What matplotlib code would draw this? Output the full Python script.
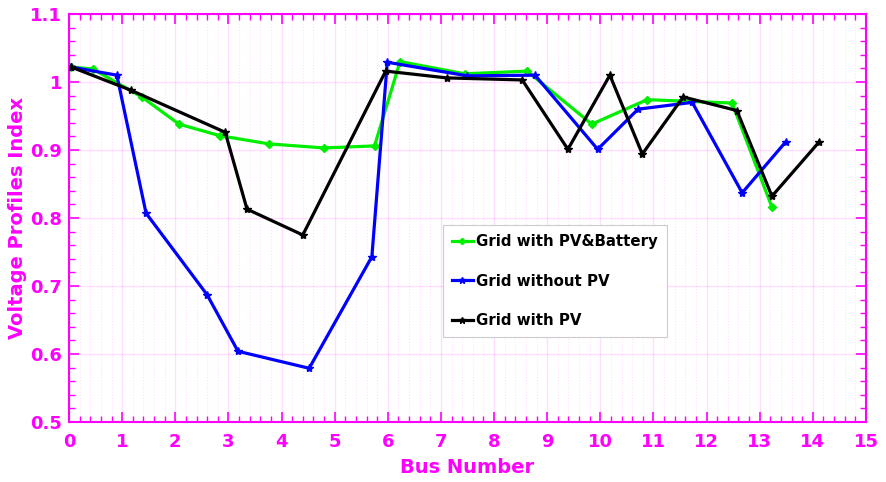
import matplotlib
matplotlib.use("Agg")
import matplotlib.pyplot as plt
from matplotlib.ticker import MultipleLocator

# Data
pvbat_x = [0.04, 0.45, 1.37, 2.07, 2.84, 3.76, 4.80, 5.75, 6.23, 7.45, 8.62, 9.84, 10.88, 12.48, 13.23]
pvbat_y = [1.022, 1.019, 0.978, 0.938, 0.921, 0.909, 0.903, 0.906, 1.030, 1.012, 1.016, 0.938, 0.974, 0.969, 0.816]

nopv_x = [0.04, 0.90, 1.45, 2.60, 3.18, 4.52, 5.70, 5.99, 7.50, 8.77, 9.95, 10.71, 11.73, 12.67, 13.49]
nopv_y = [1.022, 1.010, 0.807, 0.687, 0.604, 0.579, 0.743, 1.029, 1.009, 1.010, 0.901, 0.960, 0.970, 0.837, 0.912]

pv_x = [0.04, 1.16, 2.94, 3.35, 4.40, 5.96, 7.11, 8.53, 9.39, 10.18, 10.79, 11.56, 12.57, 13.23, 14.12]
pv_y = [1.022, 0.988, 0.926, 0.813, 0.775, 1.016, 1.006, 1.003, 0.901, 1.010, 0.894, 0.978, 0.958, 0.832, 0.912]

labels = ["Grid with PV&Battery", "Grid without PV", "Grid with PV"]
xticks = list(range(0, 16))
yticks = [0.5, 0.6, 0.7, 0.8, 0.9, 1.0, 1.1]
ytick_labels = ["0.5", "0.6", "0.7", "0.8", "0.9", "1", "1.1"]

MAG = "#FF00FF"
plt.rcParams['font.family'] = ['DejaVu Sans']

fig = plt.figure(figsize=(8.86, 4.82), dpi=100)
ax = fig.add_axes([0.0779, 0.1245, 0.8995, 0.8465])

ax.plot(pvbat_x, pvbat_y, '-', color='#00EE00', lw=2.3, marker='D', ms=4, label=labels[0], zorder=3)
ax.plot(nopv_x, nopv_y, '-', color='#0000FF', lw=2.3, marker='*', ms=6, label=labels[1], zorder=3)
ax.plot(pv_x, pv_y, '-', color='#000000', lw=2.3, marker='*', ms=6, label=labels[2], zorder=4)

ax.set_xlim(0, 15)
ax.set_ylim(0.5, 1.1)
ax.set_xticks(xticks)
ax.set_yticks(yticks)
ax.set_yticklabels(ytick_labels)
ax.xaxis.set_minor_locator(MultipleLocator(0.2))
ax.yaxis.set_minor_locator(MultipleLocator(0.02))

ax.grid(True, which='major', color=MAG, alpha=0.13, lw=1.0)
ax.xaxis.grid(True, which='minor', color=MAG, alpha=0.13, lw=0.8, ls=':')
ax.set_axisbelow(True)

for s in ax.spines.values():
    s.set_color(MAG)
    s.set_linewidth(1.5)
ax.tick_params(which='both', direction='in', top=True, right=True, colors=MAG)
ax.tick_params(which='major', length=7, width=1.2, labelsize=13)
ax.tick_params(axis='x', which='major', pad=8)
ax.tick_params(axis='y', which='major', pad=5)
ax.tick_params(which='minor', length=4, width=1.0)
for t in ax.get_xticklabels() + ax.get_yticklabels():
    t.set_fontweight('bold')
    t.set_color(MAG)

ax.set_xlabel("Bus Number", fontsize=14, fontweight='bold', color=MAG, labelpad=5)
ax.set_ylabel("Voltage Profiles Index", fontsize=14, fontweight='bold', color=MAG, labelpad=2)

leg = ax.legend(loc='upper left', bbox_to_anchor=(0.469, 0.483), borderaxespad=0,
                prop={'weight': 'bold', 'size': 10.8}, labelspacing=1.65,
                handlelength=1.4, handletextpad=0.2, borderpad=0.6,
                fancybox=False, framealpha=1, edgecolor='#CCCCCC', markerscale=0.8)
leg.get_frame().set_linewidth(0.8)

fig.savefig("out.png", dpi=100)
